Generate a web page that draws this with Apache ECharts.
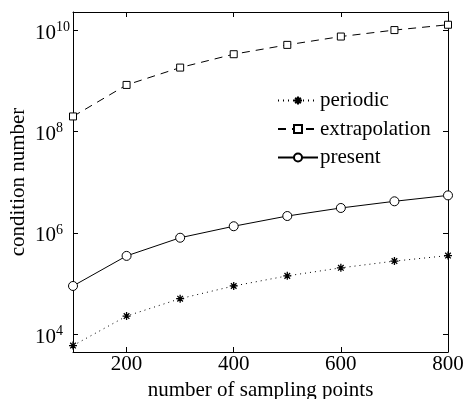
<!DOCTYPE html>
<html>
<head>
<meta charset="utf-8">
<script src="https://cdn.jsdelivr.net/npm/echarts@6/dist/echarts.min.js"></script>
<style>html,body{margin:0;padding:0;background:#fff;}#c{width:467px;height:399px;}</style>
</head>
<body>
<div id="c"></div>
<script>
var categories = ['100','200','300','400','500','600','700','800'];
var periodic = [5900, 22600, 50000, 89000, 141000, 203000, 276000, 355000];
var extrapolation = [2.0e8, 8.4e8, 1.85e9, 3.4e9, 5.2e9, 7.6e9, 1.02e10, 1.3e10];
var present = [89000, 350000, 800000, 1.35e6, 2.15e6, 3.1e6, 4.2e6, 5.5e6];
var xTickLabels = ['200','400','600','800'];
var yTickMin = 1e4, yTickMax = 1e10;       // labelled decades 10^4 ... 10^10
var yLogMin = 3.644, yLogMax = 10.366;     // visible extent (log10)

var FONT = 'Liberation Serif';
var FS = 21;
var GL = 73, GR = 19, GT = 12, GB = 47;
var H = 399;
var plotH = H - GT - GB;
var pxPerDec = plotH / (yLogMax - yLogMin);
var tickTop = GT + (yLogMax - Math.log10(yTickMax)) * pxPerDec;
var tickBottom = GB + (Math.log10(yTickMin) - yLogMin) * pxPerDec;

var star = 'path://M0,-10 L0,10 M-10,0 L10,0 M-7,-7 L7,7 M-7,7 L7,-7';
var chart = echarts.init(document.getElementById('c'), null, {renderer:'canvas'});
function showX(i){ return xTickLabels.indexOf(categories[i]) >= 0; }
var common = {
  type:'line', symbolSize: 8, showAllSymbol: true, showSymbol: true,
  xAxisIndex:0, yAxisIndex:0,
  itemStyle:{color:'#fff', borderColor:'#000', borderWidth:1},
  emphasis:{disabled:true}, animation:false
};
chart.setOption({
  animation:false,
  textStyle:{fontFamily:FONT},
  grid:[
    {left:GL, right:GR, top:GT, bottom:GB, show:false, outerBoundsMode:'none', containLabel:false},
    {left:GL, right:GR, top:tickTop, bottom:tickBottom, show:false, outerBoundsMode:'none', containLabel:false}
  ],
  legend:{
    orient:'vertical', left:272, top:85, itemWidth:40, itemHeight:10, itemGap:7.5,
    textStyle:{fontFamily:FONT, fontSize:FS, color:'#000', padding:[0,0,0,-3]},
    data:['periodic','extrapolation','present']
  },
  xAxis:[{
    gridIndex:0, type:'category', data:categories, boundaryGap:false,
    name:'number of sampling points', nameLocation:'middle', nameGap:23,
    nameTextStyle:{fontFamily:FONT, fontSize:FS, color:'#000'},
    axisLine:{lineStyle:{color:'#000', width:1}},
    axisTick:{inside:true, length:5, interval:function(i){return showX(i);}, lineStyle:{color:'#000'}},
    axisLabel:{interval:function(i){return showX(i);}, fontFamily:FONT, fontSize:FS, color:'#000', margin:2},
    splitLine:{show:false}
  },{
    gridIndex:0, type:'category', data:categories, boundaryGap:false, position:'top',
    axisLine:{lineStyle:{color:'#000', width:1}},
    axisTick:{inside:true, length:5, interval:function(i){return showX(i);}, lineStyle:{color:'#000'}},
    axisLabel:{show:false}, splitLine:{show:false}
  },{
    gridIndex:1, type:'category', data:categories, boundaryGap:false, show:false
  }],
  yAxis:[{
    gridIndex:0, type:'log', logBase:10, min:Math.pow(10,yLogMin), max:Math.pow(10,yLogMax),
    name:'condition number', nameLocation:'middle', nameGap:44, nameRotate:90,
    nameTextStyle:{fontFamily:FONT, fontSize:FS, color:'#000'},
    axisLine:{show:true, lineStyle:{color:'#000', width:1}},
    axisTick:{show:false}, axisLabel:{show:false}, splitLine:{show:false}
  },{
    gridIndex:0, type:'log', logBase:10, min:Math.pow(10,yLogMin), max:Math.pow(10,yLogMax), position:'right',
    axisLine:{show:true, lineStyle:{color:'#000', width:1}},
    axisTick:{show:false}, axisLabel:{show:false}, splitLine:{show:false}
  },{
    gridIndex:1, type:'log', logBase:10, min:yTickMin, max:yTickMax, interval:2,
    axisLine:{show:false},
    axisTick:{show:true, inside:true, length:5, lineStyle:{color:'#000'}},
    axisLabel:{
      margin:38, align:'left',
      formatter:function(v){
        var e = Math.round(Math.log10(v));
        return '{b|10}{s|' + e + '}';
      },
      rich:{
        b:{fontFamily:FONT, fontSize:FS, color:'#000', padding:[6,0,0,0]},
        s:{fontFamily:FONT, fontSize:14, color:'#000', padding:[0,0,6,0]}
      }
    },
    splitLine:{show:false}
  },{
    gridIndex:1, type:'log', logBase:10, min:yTickMin, max:yTickMax, interval:2, position:'right',
    axisLine:{show:false},
    axisTick:{show:true, inside:true, length:5, lineStyle:{color:'#000'}},
    axisLabel:{show:false}, splitLine:{show:false}
  }],
  series:[
    Object.assign({}, common, {name:'periodic', data:periodic, symbol:star, symbolSize:8,
      itemStyle:{color:'none', borderColor:'#000', borderWidth:1.3},
      lineStyle:{color:'#000', width:1, type:[1,4]}}),
    Object.assign({}, common, {name:'extrapolation', data:extrapolation, symbol:'rect', symbolSize:7,
      lineStyle:{color:'#000', width:1, type:[8,6]}}),
    Object.assign({}, common, {name:'present', data:present, symbol:'circle', symbolSize:9,
      lineStyle:{color:'#000', width:1, type:'solid'}})
  ]
});
</script>
</body>
</html>
